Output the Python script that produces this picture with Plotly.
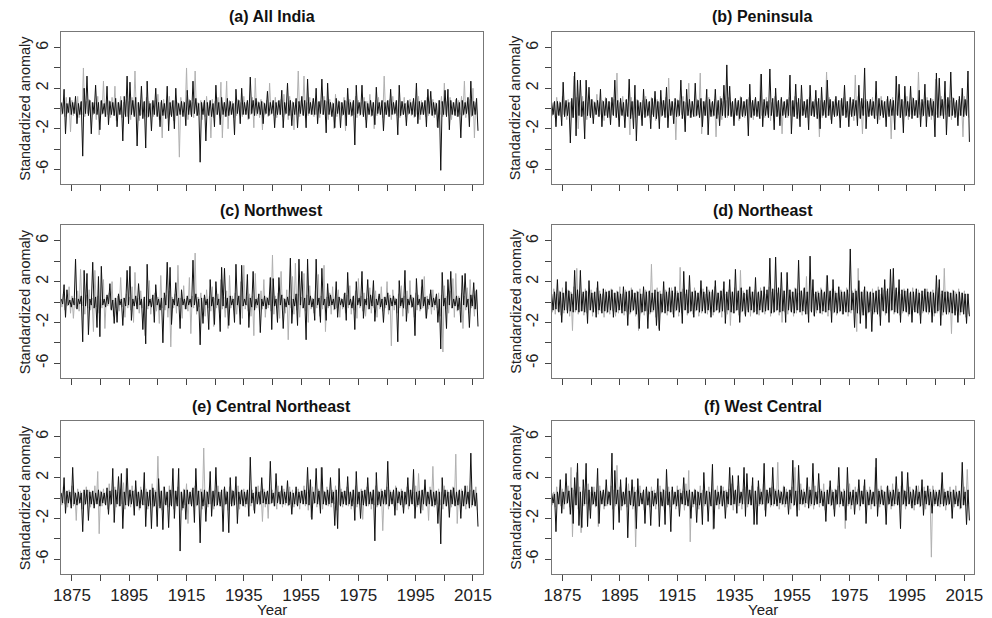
import plotly.graph_objects as go

# Monthly rainfall standardized anomalies, 1871-2016, summarised per year as the
# year's highest and lowest excursion for the two series drawn in every panel
# (dark series on top, light series underneath).
years = list(range(1871, 2017))

# ---------------- (a) All India ----------------
a_dark_hi = [.6, 1.9, .5, 1.1, .6, 1.2, .5, .7, 2.0, 3.2,
             .8, .6, 2.3, .6, .8, .5, 2.2, .7, .6, 1.0,
             .6, .8, 1.2, 3.2, 2.6, .8, 1.1, .6, 2.2, .7,
             2.7, .5, .8, 2.0, .6, .8, .5, 2.2, .6, .8,
             2.0, .5, .7, .6, 1.8, .8, 2.7, 1.0, .5, .6,
             .8, .6, .8, .5, 2.3, .6, 1.1, .6, 1.0, .7,
             .5, 1.9, .8, 2.0, .6, .8, 3.1, .8, 1.0, .6,
             .7, .5, 1.7, .6, .8, .6, .8, 1.8, .6, 2.5,
             .8, .6, 1.0, .7, 1.2, .8, 2.9, .6, 1.0, 2.0,
             .7, 2.9, .8, 2.5, .6, .5, 1.0, .7, .6, .8,
             2.0, .6, .8, 2.3, .6, 2.3, .7, .5, .8, .6,
             2.1, .6, .8, .6, .8, 1.9, .6, .8, 2.3, .7,
             .5, .8, .6, 1.0, 2.5, .7, .6, .8, 1.9, 1.7,
             .6, .5, .8, .7, 1.8, 1.9, .8, .6, 1.0, .6,
             .8, .6, 1.1, 2.7, .7, 1.0]
a_dark_lo = [-.5, -2.5, -.4, -.6, -.5, -1.5, -.6, -4.7, -.5, -.7,
             -2.5, -.5, -.6, -2.1, -.5, -.8, -1.6, -.6, -.7, -1.8,
             -.6, -3.2, -.8, -1.5, -.6, -.8, -3.7, -.7, -1.0, -3.9,
             -.8, -2.2, -.6, -.8, -1.8, -.7, -1.0, -2.2, -.8, -2.0,
             -.7, -.6, -.8, -1.7, -.6, -.8, -.5, -.7, -5.3, -.6,
             -3.2, -.7, -.8, -1.8, -.6, -1.6, -.6, -.8, -.7, -.6,
             -2.6, -.5, -1.5, -.6, -.6, -1.0, -.5, -.7, -.5, -.6,
             -1.5, -.5, -.7, -.5, -1.9, -.6, -.6, -1.9, -.5, -.7,
             -1.7, -.6, -1.9, -.5, -.7, -1.9, -.5, -.6, -.6, -1.5,
             -.5, -.6, -2.4, -.6, -.8, -1.9, -.5, -1.9, -.6, -1.7,
             -.6, -.7, -3.6, -.5, -.6, -.8, -1.9, -.6, -.7, -1.6,
             -.5, -.6, -2.2, -.6, -.8, -.6, -.5, -2.6, -.7, -.6,
             -1.7, -.5, -.6, -.8, -1.5, -.6, -.6, -1.8, -.5, -.7,
             -.6, -1.9, -6.1, -.6, -.8, -2.1, -.6, -.7, -.8, -2.9,
             -.6, -.5, -1.8, -.7, -.6, -2.2]
a_light_hi = [.7, .6, 1.1, .5, .8, .6, 1.2, .6, 4.0, .7,
              .9, .6, .6, 1.2, .7, 2.7, .6, .8, 1.1, 2.2,
              .6, 1.2, .6, .9, .7, 1.1, 3.7, .6, .8, .6,
              1.1, .7, .6, .8, 1.4, .6, .9, .6, 1.2, .7,
              .8, .6, 1.1, .7, 4.0, .9, .6, 3.7, .6, .8,
              .6, 1.2, .6, .9, .7, 1.1, 2.6, .6, 2.7, .8,
              .7, .6, .9, .6, 1.2, .6, .8, 1.1, 3.0, .7,
              .9, .6, .8, 2.5, .6, 1.1, .7, .9, 1.4, .6,
              1.2, .7, .6, 3.7, .8, 3.2, .6, 1.1, .7, .9,
              .6, .8, 1.2, .7, .9, .6, 1.4, .8, .6, 1.1,
              .7, .9, .6, 1.2, .8, .6, 1.1, .7, 1.4, .6,
              .8, 1.1, .6, 3.2, .7, .9, 1.2, .6, .8, .7,
              1.1, .6, .9, .7, .6, 1.2, .8, .6, 1.1, .7,
              .9, .6, .8, 1.2, 2.5, .7, 1.1, .6, .9, .8,
              1.2, 2.7, .7, .9, 2.0, .6]
a_light_lo = [-.6, -.8, -.5, -2.3, -.7, -.6, -.9, -.6, -.8, -.5,
              -.7, -.6, -1.1, -2.6, -.6, -.8, -.6, -.9, -.7, -1.2,
              -.6, -.9, -.6, -.8, -1.1, -.6, -.7, -1.2, -.6, -.8,
              -.9, -.6, -.8, -.6, -1.1, -2.9, -.7, -.9, -.6, -1.2,
              -.7, -4.8, -.6, -.8, -1.1, -.6, -.9, -.7, -.6, -1.1,
              -.8, -.6, -2.9, -.9, -.6, -.7, -2.9, -.8, -2.0, -.6,
              -.9, -.7, -.6, -.8, -.6, -1.1, -.6, -1.9, -.7, -.9,
              -2.1, -.6, -.8, -.6, -.7, -.9, -.6, -.8, -.6, -1.1,
              -.7, -2.1, -.6, -.8, -.6, -.9, -.7, -.6, -.8, -.6,
              -.9, -.6, -.7, -1.1, -.6, -2.0, -.8, -.6, -.7, -2.2,
              -.6, -.8, -.6, -.9, -.7, -.6, -1.1, -.6, -.8, -2.0,
              -.7, -.6, -.9, -.6, -.8, -1.1, -.6, -.7, -.9, -.6,
              -.8, -.6, -.7, -.9, -.6, -1.1, -.6, -.8, -.7, -.6,
              -.9, -1.8, -.6, -.8, -.6, -.7, -1.1, -.6, -.8, -.6,
              -.7, -.9, -.6, -.8, -2.9, -.6]

# ---------------- (b) Peninsula ----------------
b_dark_hi = [.6, .7, .7, .6, 2.6, .8, .6, 1.0, 3.6, 2.8,
             2.8, .7, 2.8, 2.1, .9, .6, .8, 1.9, .7, 1.0,
             .7, 1.1, 2.8, .8, 1.0, .6, .9, 2.9, .7, 2.3,
             .8, .6, 1.9, .9, .7, 1.0, 1.7, .7, 1.8, .8,
             2.1, .9, .7, 1.0, .8, 2.8, .7, 1.9, .9, .7,
             2.5, .8, 1.0, .7, 1.9, .9, .7, 1.9, .8, 1.0,
             2.3, 4.3, 2.2, .7, 1.0, .8, 1.1, .7, .9, 2.4,
             .8, 1.1, .7, 3.4, .9, .7, 3.9, 1.0, 2.0, .8,
             1.1, .7, .9, 3.3, .8, 2.4, 1.0, 2.3, .7, .9,
             2.3, .7, 1.8, 1.0, 2.1, .8, 2.8, .9, .7, 1.2,
             .8, 1.0, 2.3, .7, 1.1, .9, .8, 2.3, 1.0, 4.0,
             .7, .9, .7, 2.7, 1.0, .8, .7, 1.2, .9, .8,
             3.2, 2.4, .9, 2.2, .7, 2.2, 1.0, .8, 1.8, .9,
             2.4, .8, 1.0, .7, 3.5, 3.0, .9, 2.7, 1.1, 3.6,
             1.0, .8, 1.2, 2.0, .9, 3.7]
b_dark_lo = [-.6, -1.8, -.7, -1.7, -.8, -.7, -3.4, -.9, -2.7, -.7,
             -.8, -3.0, -.7, -.9, -1.5, -.6, -.8, -1.8, -.7, -.9,
             -1.6, -.7, -.9, -1.8, -.7, -1.9, -.8, -1.0, -2.0, -3.2,
             -.7, -1.7, -.9, -.7, -2.0, -.8, -1.0, -2.0, -.7, -.9,
             -1.9, -.7, -1.5, -.8, -.7, -1.0, -2.3, -.7, -.9, -.8,
             -.7, -.9, -1.8, -.7, -2.6, -.8, -.7, -1.0, -1.7, -.7,
             -.9, -.7, -.8, -1.7, -.7, -1.0, -.8, -.7, -2.7, -.9,
             -.7, -.8, -1.0, -1.8, -.7, -.9, -.7, -2.1, -.8, -1.7,
             -.7, -.9, -.7, -2.5, -.8, -1.0, -1.8, -.7, -.9, -2.1,
             -.7, -.8, -1.0, -2.0, -.7, -.9, -.7, -1.5, -.8, -.7,
             -1.9, -.7, -.9, -1.8, -.8, -.7, -1.7, -1.0, -.7, -2.0,
             -.8, -.7, -1.0, -1.5, -.7, -.9, -1.8, -.8, -.7, -2.1,
             -.7, -.9, -2.4, -.7, -.8, -1.0, -.7, -.9, -1.8, -.7,
             -1.8, -.8, -.7, -2.8, -.9, -.7, -1.0, -2.6, -.8, -.7,
             -.9, -1.7, -.7, -.8, -.7, -3.3]
b_light_hi = [.8, .6, 1.1, .7, 1.2, .6, .9, .7, 3.2, 1.1,
              .6, 1.2, .8, .6, .9, .7, 1.4, .6, .8, 1.1,
              .7, .6, .9, 3.5, .6, 1.2, .8, .6, 1.1, .7,
              .9, .6, .8, 1.2, .6, 1.1, .7, .9, .6, .8,
              1.1, 3.0, .7, .6, .9, .8, 1.2, .6, 2.5, .7,
              .6, .9, 3.5, .7, .8, 1.1, .6, .9, .6, 1.2,
              .7, .8, 1.1, .6, .9, .6, 1.2, .7, .8, 1.1,
              .6, .9, .7, 3.4, .6, 1.1, .8, .6, 1.2, .7,
              .9, .6, .8, 1.1, .7, 1.2, .6, .9, .7, .8,
              1.1, .6, .9, .7, .8, .6, 3.6, 1.1, .7, .9,
              .6, .8, 1.1, .7, .9, .6, 3.3, 1.2, .7, .8,
              .9, .7, 1.1, .6, .8, 1.2, .6, .9, .7, 1.1,
              .8, .6, .9, .7, 1.2, .6, 1.1, .8, 3.6, .6,
              .7, 1.1, .8, .9, 2.9, .6, 1.2, .7, .9, .8,
              1.1, .6, .9, .7, 1.2, .8]
b_light_lo = [-.7, -.9, -.6, -.8, -.6, -1.1, -.7, -.9, -.6, -2.0,
              -.8, -.6, -1.1, -.7, -.9, -.6, -.8, -.6, -1.2, -.7,
              -.9, -.6, -.7, -1.1, -.6, -.8, -.7, -2.6, -.6, -.9,
              -.7, -1.1, -.6, -.8, -.9, -.6, -1.2, -.7, -.8, -.6,
              -.9, -.7, -.6, -3.1, -.8, -.6, -1.1, -.7, -.9, -.6,
              -.8, -.6, -2.5, -.7, -.9, -.6, -.8, -2.8, -.6, -1.1,
              -.7, -.9, -.6, -.8, -.6, -1.2, -.7, -.9, -.6, -.8,
              -1.1, -.6, -.8, -.7, -.9, -.6, -1.2, -.6, -.8, -.7,
              -2.5, -.6, -.9, -.7, -.8, -.6, -1.1, -.7, -.6, -.9,
              -.7, -.8, -.6, -2.8, -.9, -.6, -.7, -1.1, -.6, -.8,
              -.9, -.7, -.6, -.8, -.6, -1.2, -.7, -.9, -2.5, -.6,
              -.8, -.6, -.9, -.7, -1.1, -.6, -.8, -.6, -3.0, -.7,
              -.6, -.9, -.7, -.8, -1.1, -.6, -.7, -.9, -.6, -.8,
              -.7, -.6, -1.1, -.8, -.6, -.9, -.7, -.6, -.8, -1.1,
              -.6, -.8, -.7, -2.8, -.6, -.9]

# ---------------- (c) Northwest ----------------
c_dark_hi = [.3, 1.7, 1.2, .2, .4, 4.2, .3, .6, 3.1, 2.8,
             .3, 3.9, .5, 2.5, 3.5, .3, .7, 1.8, .2, .4,
             .8, .3, .4, 3.1, 3.5, .3, .6, 1.8, .3, .5,
             3.7, .3, .7, 1.7, .3, .4, .9, 3.9, 3.4, .3,
             1.9, .4, 1.2, .3, .6, .3, 4.1, .8, .3, .4,
             .7, .3, 2.2, .5, 2.0, .3, 3.4, 3.3, .4, .6,
             .3, 3.7, .6, 3.6, .3, 2.7, .4, 3.0, .3, .8,
             .3, .6, .4, 2.4, 2.3, .3, 2.4, .7, .3, .5,
             4.3, .3, .8, 4.2, 3.0, .4, 4.2, .6, .3, 4.2,
             .4, 3.3, .3, 1.8, .7, .3, 2.0, .5, .3, .9,
             2.9, .3, .6, 2.0, .4, 3.0, .3, 2.2, .7, 2.1,
             .3, .8, .3, .5, .9, .4, .6, .3, 2.1, .4,
             3.1, .3, .7, .4, 2.3, .3, 2.2, .5, .3, 1.2,
             .4, .8, .3, 2.9, .4, 2.2, 3.0, .3, .6, .4,
             2.6, 2.8, .3, .7, 1.9, 1.2]
c_dark_lo = [-.2, -1.5, -.3, -.5, -.3, -.7, -.2, -3.9, -.4, -3.2,
             -.3, -.6, -2.5, -3.4, -.3, -.5, -.2, -.8, -2.1, -2.0,
             -.3, -2.3, -.4, -.3, -1.8, -.4, -.7, -.3, -2.7, -4.1,
             -.4, -.5, -2.0, -.3, -.8, -4.0, -.3, -.6, -2.2, -.3,
             -.4, -2.6, -.3, -.7, -.3, -.5, -.3, -.9, -4.2, -2.1,
             -.3, -2.7, -.4, -2.2, -.3, -2.9, -.4, -.6, -2.3, -.3,
             -2.0, -.3, -2.2, -.4, -.3, -2.5, -.5, -.8, -.3, -3.0,
             -.4, -.7, -.3, -2.7, -.4, -2.0, -.3, -2.6, -.5, -.3,
             -2.1, -.4, -2.3, -.3, -.6, -3.7, -.3, -.5, -1.8, -.3,
             -2.0, -.3, -1.8, -.4, -.3, -.7, -1.5, -.3, -.5, -1.8,
             -.3, -.6, -2.7, -.3, -.4, -1.6, -.3, -.7, -.4, -1.9,
             -.3, -.5, -2.0, -.3, -.8, -.4, -.3, -3.9, -.4, -.6,
             -1.9, -.3, -.5, -3.3, -.3, -.7, -.4, -1.6, -.3, -.5,
             -.3, -2.0, -4.6, -.4, -2.6, -.3, -.6, -.4, -.8, -2.0,
             -.3, -.5, -2.5, -.4, -.7, -2.4]
c_light_hi = [.4, .8, .3, 1.5, .6, .4, 1.1, 3.2, .5, .7,
              1.2, .4, 3.1, .6, .3, 2.2, .5, .9, 2.0, .4,
              .6, 2.4, .4, .8, .5, 1.5, 2.9, .4, 1.1, .3,
              .6, 2.1, .4, .9, .5, 2.6, .4, .7, 1.1, .5,
              .8, 3.6, .4, 1.6, .4, 2.4, .6, 4.8, .5, .9,
              .4, 1.2, .6, 1.5, .4, .8, 2.2, .5, 1.1, 2.6,
              .6, .9, .4, 2.0, 3.6, .5, .8, .6, 2.8, .4,
              1.1, 2.2, .5, .7, 4.6, .6, .9, 3.0, .4, 1.2,
              .6, 2.5, 3.8, .8, .5, 2.8, .7, 1.6, .4, 1.1,
              2.7, .6, 3.6, .5, .9, 1.5, .6, 1.2, .4, .8,
              .7, 1.6, .5, 1.1, 2.3, .6, .9, .4, 1.4, .6,
              1.1, .6, 1.5, .5, 2.0, .7, 1.2, .4, .8, 1.6,
              .6, 1.1, 2.1, .5, .9, .7, 1.5, 2.5, .6, .8,
              1.2, .5, .9, .7, 1.6, .6, 1.1, 2.3, 2.8, .6,
              .9, .6, 1.4, 2.2, .7, 1.1]
c_light_lo = [-.5, -.8, -.4, -1.1, -1.6, -.6, -.9, -.4, -1.2, -.6,
              -.8, -2.9, -.5, -1.1, -.6, -2.6, -.4, -.7, -1.4, -.6,
              -.9, -.5, -1.5, -.6, -.8, -2.0, -.4, -1.1, -.6, -3.3,
              -.7, -1.2, -.5, -.9, -2.1, -.6, -.8, -1.5, -4.4, -.6,
              -1.1, -.5, -1.6, -.7, -.9, -3.1, -.6, -1.2, -.5, -.8,
              -1.4, -.6, -.9, -2.4, -.6, -1.1, -.7, -1.5, -2.6, -.6,
              -.8, -1.2, -.6, -1.6, -.7, -.9, -1.4, -3.3, -.6, -1.1,
              -.7, -1.5, -.6, -.9, -1.2, -.6, -1.6, -.8, -1.1, -3.7,
              -.6, -1.2, -.8, -1.5, -.6, -.9, -2.0, -.7, -1.1, -.6,
              -1.4, -.7, -2.9, -.6, -1.2, -.8, -.6, -1.5, -.7, -1.1,
              -.6, -1.2, -.8, -1.6, -.6, -.9, -1.4, -.7, -1.1, -.6,
              -1.5, -.7, -.9, -.6, -1.2, -4.3, -.8, -1.1, -.6, -1.4,
              -.7, -1.1, -.6, -1.5, -.8, -.9, -.6, -1.6, -.7, -1.2,
              -.8, -.6, -1.4, -4.9, -.7, -1.1, -.6, -1.5, -.9, -.7,
              -2.6, -.8, -1.1, -.6, -1.4, -.7]

# ---------------- (d) Northeast ----------------
d_dark_hi = [.8, 1.0, 2.2, 1.0, .9, 2.0, 1.1, .8, 3.1, 1.2,
             3.1, 1.0, 1.1, 2.1, .9, 1.0, 2.0, .8, 1.3, 1.0,
             1.1, 1.2, .9, 1.0, .8, 1.5, 1.0, 1.1, 1.2, .9,
             1.0, .8, 1.5, 1.0, 1.1, .9, 1.2, 1.0, .8, 2.0,
             1.0, 1.4, 1.1, 1.5, .9, 1.0, 3.0, 1.2, 2.6, 1.0,
             1.1, .9, 2.1, 1.0, 1.5, 1.0, 1.2, 2.1, .9, 1.1,
             2.0, 1.0, 2.2, 1.0, 3.2, 1.1, 1.4, .9, 1.2, 1.5,
             1.0, 2.4, 1.0, 1.1, 1.5, 1.2, 4.3, 1.3, 4.4, 1.4,
             2.9, 1.1, 2.9, 1.2, 1.0, 1.3, 4.1, 1.1, 1.4, 1.0,
             4.5, 2.2, 1.0, .9, 1.2, 1.0, 2.6, 1.1, 2.2, .9,
             1.5, 1.0, 1.0, 1.2, 5.2, .9, 1.1, 2.1, 1.0, 1.5,
             1.0, 1.0, .9, 1.1, 1.2, 1.4, 2.2, 1.3, 3.2, 3.3,
             1.4, 2.2, 1.2, 1.1, 1.3, 1.0, 1.0, 1.3, .9, 1.1,
             1.3, 1.0, 1.0, .9, 2.6, 2.2, 1.1, 1.0, 1.0, .9,
             1.1, .8, 1.0, .9, .8, .8]
d_dark_lo = [-.8, -.7, -1.0, -2.0, -.8, -1.1, -.9, -1.0, -.8, -1.0,
             -.9, -1.0, -2.1, -.8, -1.0, -1.5, -.8, -1.1, -.9, -1.0,
             -.8, -1.5, -1.0, -.8, -1.1, -.9, -2.3, -1.0, -.8, -1.2,
             -2.6, -1.0, -.9, -2.6, -1.0, -.8, -2.3, -2.8, -1.0, -1.1,
             -.9, -1.0, -1.5, -.8, -1.0, -2.1, -.8, -1.1, -.9, -1.5,
             -.8, -1.0, -.9, -1.1, -.8, -1.5, -1.0, -.8, -1.0, -.9,
             -2.1, -.8, -1.0, -1.1, -.8, -2.0, -.9, -1.4, -1.0, -.8,
             -1.0, -1.2, -.8, -1.0, -.9, -.8, -1.1, -1.0, -.8, -1.0,
             -.9, -2.0, -.8, -1.0, -1.1, -.8, -1.0, -.9, -1.2, -2.0,
             -1.0, -1.4, -.8, -1.1, -.9, -1.0, -.8, -2.0, -1.0, -1.1,
             -.9, -1.2, -1.0, -1.0, -.8, -2.5, -1.1, -2.1, -1.3, -2.6,
             -1.0, -2.9, -1.0, -1.2, -2.3, -.9, -1.1, -2.0, -.8, -1.0,
             -1.1, -2.0, -.9, -1.0, -1.2, -2.0, -1.0, -1.1, -2.1, -.9,
             -1.0, -1.0, -2.0, -1.1, -.9, -2.3, -1.0, -1.2, -1.0, -1.1,
             -1.3, -2.0, -1.0, -1.2, -2.1, -1.4]
d_light_hi = [1.0, 1.3, .8, 1.1, 1.4, .9, 1.2, 1.0, 1.5, 3.3,
              1.1, .8, 1.3, 1.0, 1.2, .9, 1.4, 1.1, .8, 1.2,
              1.0, 1.3, .9, 1.1, 1.5, .8, 1.2, 1.0, 1.4, .9,
              1.1, 1.3, .8, 1.2, 1.0, 3.7, .9, 1.4, 1.1, .8,
              1.2, 1.0, 1.4, .9, 1.1, 3.4, 1.3, .8, 1.2, 1.0,
              1.4, .9, 1.1, 1.3, .8, 1.2, 1.0, 1.5, .9, 1.1,
              1.3, .8, 1.2, 1.0, 1.4, .9, 3.1, 1.1, .8, 1.3,
              1.0, 1.2, .9, 1.4, 1.1, .8, 1.5, 1.0, 1.2, .9,
              1.3, 1.1, .8, 1.2, 1.0, 1.4, .9, 1.1, 1.3, 2.5,
              1.0, 1.2, .8, 1.1, 1.4, .9, 2.6, 1.0, 1.3, 1.1,
              .9, 1.2, 1.0, 1.4, .8, 1.1, 1.3, 3.3, 1.0, 1.2,
              1.1, .9, 1.3, 1.0, 1.5, .8, 1.2, 1.1, 1.4, 1.0,
              1.2, 1.0, .8, 1.3, 1.1, .9, 1.4, 1.0, 1.2, .8,
              1.1, 1.3, .9, 1.2, 1.0, 1.4, .8, 3.3, 1.1, .9,
              1.2, 1.0, 1.3, .9, 1.1, .8]
d_light_lo = [-1.0, -1.2, -.9, -1.3, -1.1, -.8, -1.4, -2.8, -1.0, -1.2,
              -.9, -1.3, -1.1, -.8, -1.4, -1.0, -1.2, -.9, -1.5, -1.1,
              -1.2, -.9, -1.4, -1.1, -.8, -1.3, -1.0, -1.2, -.9, -1.4,
              -2.8, -1.1, -1.3, -.9, -1.2, -1.0, -1.5, -2.6, -1.1, -.8,
              -1.3, -1.0, -1.2, -.9, -1.4, -1.1, -.8, -1.3, -1.0, -1.2,
              -.9, -1.4, -1.1, -.8, -1.2, -1.0, -1.3, -.9, -1.1, -1.5,
              -1.0, -1.2, -2.3, -1.1, -.9, -1.3, -1.0, -1.2, -.8, -1.4,
              -1.1, -.9, -1.3, -1.0, -1.2, -.8, -1.4, -1.1, -.9, -1.3,
              -2.0, -1.0, -1.2, -.9, -1.4, -1.1, -.8, -1.3, -1.0, -1.2,
              -.9, -1.3, -1.1, -.8, -1.2, -1.0, -1.4, -.9, -1.1, -1.3,
              -1.0, -1.2, -.9, -1.4, -1.1, -.8, -2.9, -1.2, -1.0, -1.3,
              -1.1, -.9, -1.2, -1.0, -1.4, -.8, -1.3, -1.1, -.9, -1.2,
              -1.0, -1.3, -1.1, -.9, -1.4, -1.2, -.8, -1.0, -1.3, -1.1,
              -.9, -1.2, -1.0, -1.4, -1.1, -.8, -1.3, -1.0, -1.2, -3.1,
              -1.1, -.9, -1.3, -1.0, -1.5, -1.2]

# ---------------- (e) Central Northeast ----------------
e_dark_hi = [.5, 2.0, .7, .6, 3.0, .5, .6, .5, .8, .8,
             .6, .7, .5, .8, .6, .5, 1.0, .7, 2.9, .8,
             2.1, 2.4, .6, 2.9, .8, .7, 1.7, .6, .8, 2.5,
             .6, .8, 1.0, .6, 1.9, .7, 1.1, .6, .8, 2.9,
             .7, 2.9, .6, .8, .8, .6, 1.0, 2.9, .7, .6,
             .8, .6, 2.6, .7, 3.0, .6, .8, 1.1, .6, 2.0,
             .7, 2.1, .6, .8, .6, .8, 4.0, .5, 1.1, .6,
             2.0, .6, .7, 3.6, .5, 2.4, .6, 1.2, .6, 1.7,
             .6, .5, 1.1, .6, .7, .8, 3.0, 1.8, .6, 2.9,
             .7, 3.0, .6, .8, 2.0, .6, .8, 2.9, .6, .7,
             2.1, .6, .8, 2.6, .6, .7, .8, 2.0, .6, .8,
             2.5, .6, .7, .8, 3.6, .6, .8, 1.0, .6, .7,
             .6, 2.0, .8, 2.8, .6, .7, .8, 1.8, .6, .8,
             .6, .7, .6, 2.0, .8, .6, .8, 1.0, .6, .8,
             .7, 1.2, .6, 4.4, .8, .5]
e_dark_lo = [-.5, -1.5, -.5, -1.0, -.6, -.7, -.5, -3.3, -.6, -2.2,
             -.6, -1.0, -.6, -.8, -.5, -.7, -1.6, -.6, -2.4, -.6,
             -.8, -3.0, -.7, -.8, -.6, -1.7, -.8, -1.0, -.7, -2.8,
             -.8, -3.0, -.8, -2.8, -1.0, -3.1, -.7, -2.9, -.8, -2.0,
             -.8, -5.2, -1.0, -2.1, -.6, -.8, -2.4, -.7, -4.4, -.8,
             -2.3, -.6, -1.8, -.8, -.7, -.8, -3.3, -.6, -3.4, -.8,
             -.7, -2.5, -.6, -.8, -.6, -1.8, -.5, -1.5, -.6, -.6,
             -.5, -.6, -.6, -.5, -.8, -.5, -.6, -.6, -.5, -.7,
             -1.6, -.6, -.8, -.5, -.6, -.6, -.7, -2.1, -.5, -.6,
             -1.5, -.6, -.7, -.6, -.5, -2.7, -3.0, -.8, -.6, -.7,
             -.6, -.8, -2.2, -.6, -2.0, -.7, -.8, -.6, -.6, -4.2,
             -.7, -.8, -.6, -.6, -.8, -.6, -1.7, -.5, -.7, -1.5,
             -.6, -.8, -.6, -2.0, -.7, -1.5, -.6, -.8, -.6, -.8,
             -.7, -2.5, -4.5, -.6, -.8, -1.9, -.6, -.8, -.7, -2.0,
             -.8, -.6, -1.0, -.7, -.8, -2.8]
e_light_hi = [.7, 1.1, .6, .8, 1.2, .6, .9, .7, .6, 1.1,
              .8, .6, 1.2, 2.6, .7, .9, .6, 1.4, .8, 1.1,
              .6, .9, 1.5, 2.9, .7, 1.2, .8, .6, 1.1, .7,
              .9, .6, 1.4, .8, 4.1, .7, 1.1, .6, 1.2, .8,
              .7, 1.1, .6, .9, 1.4, .6, .8, 1.2, .7, .9,
              4.9, .7, 1.1, .6, .8, 1.2, .6, .9, .7, 1.1,
              .8, .6, 1.2, .7, .9, .6, 1.1, .8, .6, 1.2,
              .7, .9, .6, 1.1, .8, .6, 1.2, .7, .9, .6,
              1.1, .8, .6, .9, .7, 1.2, .6, .8, 1.1, .6,
              .9, 3.0, .7, 1.1, .6, .8, 1.2, .6, .9, .7,
              1.1, .6, .8, 1.2, .6, .9, .7, 1.1, .6, .8,
              1.2, .7, .9, .6, 1.1, .8, .6, 1.2, .7, .9,
              .6, 1.1, .8, .6, 1.2, 2.4, .7, .9, .6, 1.1,
              3.1, .7, .9, .6, 1.2, .8, .6, 1.1, 4.3, .7,
              .9, .6, 1.2, .8, .7, 1.1]
e_light_lo = [-.7, -.6, -.9, -.6, -.8, -2.2, -.6, -1.1, -.7, -.6,
              -.9, -.7, -.6, -3.5, -.8, -.6, -1.1, -.7, -.6, -.9,
              -.8, -.6, -1.1, -.7, -.9, -.6, -.8, -1.2, -.6, -.7,
              -1.1, -.7, -.9, -.6, -.8, -1.2, -.6, -.9, -.7, -1.1,
              -.6, -.8, -1.2, -.7, -2.5, -.6, -.9, -.8, -.6, -1.1,
              -.7, -.9, -.6, -1.1, -.8, -.6, -.9, -.7, -1.2, -.6,
              -.8, -.6, -1.1, -.7, -.9, -.6, -.8, -1.2, -.6, -.7,
              -2.3, -.9, -2.0, -.6, -.8, -1.1, -.6, -.9, -.7, -.8,
              -.6, -.9, -.7, -1.1, -.6, -.8, -1.2, -1.9, -.6, -.9,
              -.7, -1.1, -.6, -.8, -.9, -.6, -1.2, -.7, -.9, -.6,
              -.8, -1.1, -.6, -.9, -.7, -2.1, -.6, -.8, -1.1, -.7,
              -.9, -.6, -3.2, -.7, -1.1, -.6, -.8, -1.2, -.6, -.9,
              -.7, -1.1, -.6, -.8, -.9, -.6, -1.2, -.7, -2.2, -.8,
              -.9, -.6, -.7, -1.1, -.8, -.6, -.9, -.7, -2.5, -.6,
              -.8, -1.1, -.6, -.9, -.7, -1.2]

# ---------------- (f) West Central ----------------
f_dark_hi = [.5, .4, .6, 1.8, .6, 2.4, .7, 1.0, 2.0, 3.4,
             .6, 1.8, 3.4, .8, 1.1, .6, 2.9, .7, .8, 1.8,
             .6, 4.4, 2.7, .8, 1.8, .6, 2.0, .7, 1.8, .6,
             1.9, .5, .8, 1.1, .6, .7, .5, 1.9, .6, .8,
             2.8, .6, 1.1, .6, .8, .5, 2.0, .7, .8, .6,
             .8, .6, .5, 2.5, .7, .6, 3.3, .8, .6, 1.2,
             .7, .6, 3.0, 2.2, .8, 2.2, .6, 3.0, 2.4, .8,
             2.0, .7, 1.7, .6, 3.4, .8, 1.0, 3.0, .7, .8,
             .6, 1.1, .6, .8, 3.7, .7, 3.2, .8, .6, 2.0,
             .8, 3.4, .6, 2.4, .7, .6, .8, 1.7, .6, .8,
             3.0, .6, .7, 3.0, .6, .8, .6, 1.8, .7, 1.8,
             .6, .8, .6, 3.9, .7, .8, .6, 1.2, .6, .8,
             2.1, .6, 2.6, .7, 2.5, .6, .8, 1.2, .6, 1.8,
             .7, 1.2, .6, .8, .6, .8, 2.5, .6, .7, .6,
             .8, .6, .7, 3.5, .6, .8]
f_dark_lo = [-.5, -3.3, -.6, -1.5, -.6, -.5, -1.6, -2.5, -.7, -2.7,
             -2.9, -.6, -2.8, -2.0, -.6, -.8, -2.5, -.6, -.8, -.6,
             -.7, -3.1, -.6, -2.4, -.8, -.6, -3.9, -.7, -.8, -3.0,
             -.8, -.6, -2.5, -.7, -2.7, -.8, -.6, -2.8, -.8, -2.6,
             -.7, -3.3, -.6, -.8, -1.8, -.6, -.7, -.8, -2.0, -.6,
             -2.4, -.7, -2.6, -.6, -2.3, -.8, -3.0, -.7, -.6, -.8,
             -2.0, -.6, -.7, -.6, -1.5, -.5, -.6, -1.8, -.6, -.7,
             -2.6, -2.6, -.6, -.6, -1.8, -.5, -.7, -.6, -.8, -.5,
             -.6, -.6, -1.6, -.5, -.7, -1.8, -.6, -.6, -.5, -1.0,
             -.6, -.7, -.6, -.5, -.8, -2.3, -.6, -.7, -1.8, -.6,
             -.6, -.8, -2.2, -.6, -.7, -1.6, -.6, -.8, -.6, -2.5,
             -.7, -.6, -.8, -1.8, -.6, -.7, -2.6, -.6, -.8, -.6,
             -.7, -3.0, -.6, -.8, -.6, -1.0, -.7, -.6, -.8, -1.7,
             -.6, -.7, -1.5, -.6, -.8, -.6, -.8, -.7, -.6, -2.0,
             -.6, -.8, -1.0, -.7, -2.6, -2.2]
f_light_hi = [.8, .6, 1.1, .7, .9, .6, 1.2, 3.0, .8, 2.5,
              1.1, .7, .9, 1.4, .6, 1.1, .8, 1.2, .6, .9,
              .7, 1.2, .8, 3.2, 1.1, .6, .9, 1.4, .7, 1.1,
              .8, 1.2, .6, .9, .7, 1.1, .8, .6, 1.2, .9,
              .7, 1.1, .8, .6, 1.2, .9, .7, 1.4, 2.7, .6,
              .9, .7, 1.2, .8, .6, 1.1, .9, .7, 1.2, .6,
              1.1, .8, .9, 1.4, .7, 1.2, .6, .9, 1.1, .8,
              1.2, .7, 1.1, .9, 1.4, .8, .6, 1.1, .9, 3.5,
              .7, 1.2, .9, .8, 1.1, 3.0, .7, 1.4, .9, .6,
              1.1, .8, 1.2, .7, .9, 1.4, .6, 1.1, .8, .9,
              1.2, .7, .9, .8, 1.4, .6, 1.1, .9, .7, 1.2,
              .8, 1.1, .6, 3.0, .9, 1.2, .7, 1.1, .8, 1.4,
              .7, .9, 1.2, .8, .6, 1.1, .9, .7, 1.2, .8,
              1.1, .7, .9, 1.2, .8, .6, 1.4, .9, .7, 1.1,
              .8, 1.2, .7, .9, 1.1, 2.8]
f_light_lo = [-.7, -.9, -.6, -.8, -1.1, -.6, -.9, -3.8, -.7, -1.1,
              -3.4, -.8, -.6, -1.2, -.7, -.9, -2.8, -.6, -1.1, -.8,
              -.7, -1.1, -.8, -.6, -1.2, -.7, -.9, -.6, -1.1, -4.8,
              -.8, -.6, -1.2, -.7, -.9, -.6, -1.1, -.8, -.7, -1.2,
              -.6, -.9, -.7, -1.1, -.8, -.6, -1.2, -.7, -4.3, -.9,
              -.7, -1.1, -.6, -.8, -.9, -.6, -3.1, -.7, -1.1, -.8,
              -.6, -.9, -.7, -1.2, -.6, -.8, -1.1, -.6, -.9, -.7,
              -1.1, -.6, -.8, -.7, -1.2, -.6, -.9, -.8, -.6, -1.1,
              -.7, -.9, -.6, -1.1, -.8, -.6, -1.2, -.7, -.9, -.6,
              -.8, -1.1, -.6, -.9, -.7, -1.2, -.6, -.8, -1.1, -.7,
              -.9, -.6, -3.0, -.8, -1.1, -.6, -.7, -1.2, -.6, -.9,
              -.7, -1.1, -.8, -.6, -.9, -.6, -1.2, -.7, -1.1, -.8,
              -.6, -.9, -.7, -1.1, -.6, -.8, -1.2, -.6, -.9, -.7,
              -1.1, -.7, -5.8, -.8, -.6, -.9, -.6, -1.2, -.7, -.8,
              -.9, -.6, -1.1, -.7, -.8, -.6]

panels = [
    ("(a) All India", a_dark_hi, a_dark_lo, a_light_hi, a_light_lo),
    ("(b) Peninsula", b_dark_hi, b_dark_lo, b_light_hi, b_light_lo),
    ("(c) Northwest", c_dark_hi, c_dark_lo, c_light_hi, c_light_lo),
    ("(d) Northeast", d_dark_hi, d_dark_lo, d_light_hi, d_light_lo),
    ("(e) Central Northeast", e_dark_hi, e_dark_lo, e_light_hi, e_light_lo),
    ("(f) West Central", f_dark_hi, f_dark_lo, f_light_hi, f_light_lo),
]

year_ticks = list(range(1875, 2016, 10))
year_labels = [str(y) if (y - 1875) % 20 == 0 else "" for y in year_ticks]
anom_ticks = [-6, -4, -2, 0, 2, 4, 6]
anom_labels = ["-6", "", "-2", "", "2", "", "6"]

W, H = 992, 618
col_px = [(54, 483), (553, 983)]
row_px = [(32, 184), (225, 378), (421, 574)]
FONT = "Liberation Sans, Arial, sans-serif"


def zigzag(hi, lo, offset):
    xs, ys = [], []
    for yr, h, l in zip(years, hi, lo):
        xs += [yr + offset, yr + offset + 0.5]
        ys += [h, l]
    return xs, ys


fig = go.Figure()
layout = dict(
    width=W, height=H, margin=dict(l=0, r=0, t=0, b=0),
    paper_bgcolor="white", plot_bgcolor="white", showlegend=False,
    font=dict(family=FONT, color="#222222"),
)
annotations = []

for i, (title, dhi, dlo, lhi, llo) in enumerate(panels):
    row, col = divmod(i, 2)
    n = i + 1
    xa = "xaxis" if n == 1 else f"xaxis{n}"
    ya = "yaxis" if n == 1 else f"yaxis{n}"
    xref = "x" if n == 1 else f"x{n}"
    yref = "y" if n == 1 else f"y{n}"

    x0, x1 = col_px[col]
    y0, y1 = row_px[row]
    xdom = [x0 / W, x1 / W]
    ydom = [1 - y1 / H, 1 - y0 / H]

    lx, ly = zigzag(lhi, llo, 0.0)
    fig.add_trace(go.Scatter(x=lx, y=ly, mode="lines", xaxis=xref, yaxis=yref,
                             line=dict(color="#b0b0b0", width=1), hoverinfo="skip"))
    dx, dy = zigzag(dhi, dlo, 0.25)
    fig.add_trace(go.Scatter(x=dx, y=dy, mode="lines", xaxis=xref, yaxis=yref,
                             line=dict(color="#111111", width=1), hoverinfo="skip"))

    bottom = row == 2
    layout[xa] = dict(
        domain=xdom, anchor=yref, range=[1871.2, 2018.4],
        tickmode="array", tickvals=year_ticks, ticktext=year_labels,
        showticklabels=bottom, ticks="outside", ticklen=6, tickcolor="#444",
        showline=True, linecolor="#777", linewidth=1, mirror=True,
        showgrid=False, zeroline=False,
        tickfont=dict(size=17, family=FONT, color="#222"),
    )
    layout[ya] = dict(
        domain=ydom, anchor=xref, range=[-7.45, 7.55],
        tickmode="array", tickvals=anom_ticks, ticktext=anom_labels,
        tickangle=-90, ticks="outside", ticklen=6, tickcolor="#444",
        showline=True, linecolor="#777", linewidth=1, mirror=True,
        showgrid=False, zeroline=False,
        tickfont=dict(size=16, family=FONT, color="#222"),
    )

    xc = (x0 + x1) / 2 / W
    annotations.append(dict(
        text=f"<b>{title}</b>", x=xc, y=1 - (y0 - 15) / H, xref="paper", yref="paper",
        showarrow=False, font=dict(size=16, family=FONT, color="#111"),
        xanchor="center", yanchor="middle"))
    annotations.append(dict(
        text="Standardized anomaly", x=(x0 - 37) / W, y=1 - (y0 + y1) / 2 / H,
        xref="paper", yref="paper", showarrow=False, textangle=-90,
        font=dict(size=14.5, family=FONT, color="#222"),
        xanchor="center", yanchor="middle"))
    if bottom:
        annotations.append(dict(
            text="Year", x=xc, y=1 - 609 / H, xref="paper", yref="paper",
            showarrow=False, font=dict(size=15, family=FONT, color="#222"),
            xanchor="center", yanchor="middle"))

layout["annotations"] = annotations
fig.update_layout(**layout)
fig.write_html("out.html")
